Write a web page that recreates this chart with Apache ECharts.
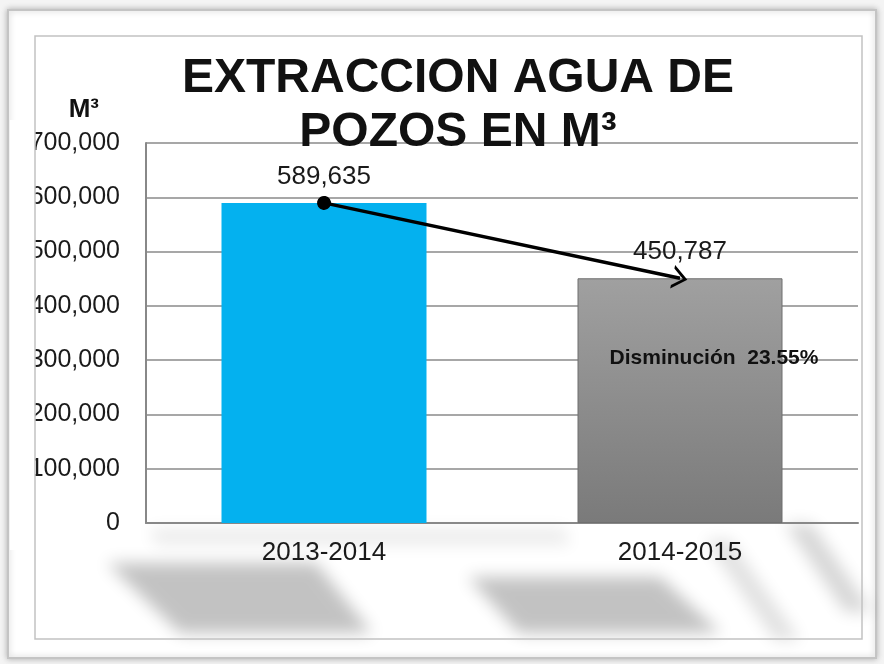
<!DOCTYPE html>
<html>
<head>
<meta charset="utf-8">
<script src="https://cdn.jsdelivr.net/npm/echarts@6/dist/echarts.min.js"></script>
<style>
  html, body { margin: 0; padding: 0; background: #fff; }
  #chart { width: 884px; height: 664px; }
</style>
</head>
<body>
<div id="chart"></div>
<script>
// --- data ---
const periods = ['2013-2014', '2014-2015']
const volumes = [589635, 450787]
const yTicks = [0, 100000, 200000, 300000, 400000, 500000, 600000, 700000]
const noteText = 'Disminución  23.55%'

const chart = echarts.init(document.getElementById('chart'))

const fmt = v => v.toLocaleString('en-US')
const font = 'Arial, "Liberation Sans", sans-serif'

// soft grey shapes of the slide background: only the blurred shadow is shown,
// the shape itself sits off screen
const shade = (points, alpha) => ({
  type: 'polygon',
  z: 0,
  silent: true,
  shape: { points: points.map(p => [p[0] - 2000, p[1]]) },
  style: {
    fill: '#000',
    shadowBlur: 16,
    shadowOffsetX: 2000,
    shadowColor: 'rgba(0,0,0,' + alpha + ')'
  }
})

const option = {
  animation: false,
  backgroundColor: '#f4f4f4',
  title: {
    text: 'EXTRACCION AGUA DE\nPOZOS EN M³',
    left: 453,
    top: 47,
    textAlign: 'center',
    textStyle: { fontFamily: font, fontSize: 48, fontWeight: 'bold', color: '#111', lineHeight: 54 }
  },
  grid: { left: 146, right: 26, top: 143, bottom: 141 },
  xAxis: {
    type: 'category',
    data: periods,
    axisLine: { lineStyle: { color: '#888', width: 2 } },
    axisTick: { show: false },
    axisLabel: { fontFamily: font, fontSize: 26, color: '#1a1a1a', margin: 17 }
  },
  yAxis: {
    type: 'value',
    min: yTicks[0],
    max: yTicks[yTicks.length - 1],
    interval: yTicks[1] - yTicks[0],
    name: 'M³',
    nameLocation: 'end',
    nameGap: 20,
    nameTextStyle: { fontFamily: font, fontSize: 26, fontWeight: 'bold', color: '#111', align: 'right', padding: [0, 47, 0, 0] },
    axisLine: { show: true, lineStyle: { color: '#888', width: 2 } },
    axisTick: { show: false },
    axisLabel: { fontFamily: font, fontSize: 25, color: '#1a1a1a', margin: 26, formatter: v => fmt(v) },
    splitLine: { lineStyle: { color: '#8a8a8a', width: 1.5 } }
  },
  series: [{
    type: 'bar',
    barWidth: 205,
    data: volumes.map((v, i) => ({
      value: v,
      itemStyle: i === 0
        ? { color: '#04b1ef' }
        : {
            color: new echarts.graphic.LinearGradient(0, 0, 0, 1, [
              { offset: 0, color: '#a0a0a0' },
              { offset: 1, color: '#7a7a7a' }
            ]),
            borderColor: '#6f6f6f',
            borderWidth: 1
          }
    })),
    label: {
      show: true,
      position: 'top',
      distance: 13,
      fontFamily: font,
      fontSize: 26,
      color: '#1a1a1a',
      formatter: p => fmt(p.value)
    },
    markLine: {
      silent: true,
      label: { show: false },
      lineStyle: { color: '#000', width: 3.5, type: 'solid' },
      data: [[
        { coord: [periods[0], volumes[0]], symbol: 'circle', symbolSize: 14 },
        { coord: [periods[1], volumes[1]], symbol: 'path://M0,10 L5,0 L10,10 L8.5,10 L5,3 L1.5,10 Z', symbolSize: [24, 15] }
      ]]
    }
  }],
  graphic: [
    // slide frame
    { type: 'rect', z: -1, silent: true, shape: { x: 8, y: 10, width: 868, height: 648 },
      style: { fill: '#fff', stroke: '#c4c4c4', lineWidth: 2, shadowBlur: 6, shadowColor: 'rgba(0,0,0,0.25)' } },
    shade([[150, 528], [565, 528], [570, 545], [155, 545]], 0.08),
    shade([[107, 563], [316, 563], [372, 633], [180, 633]], 0.24),
    shade([[468, 577], [660, 577], [721, 633], [519, 633]], 0.24),
    shade([[785, 524], [812, 524], [872, 612], [845, 612]], 0.16),
    shade([[705, 540], [730, 540], [800, 640], [775, 640]], 0.12),
    // clip of the tick labels at the inner frame
    { type: 'rect', z: 100, silent: true, shape: { x: 10, y: 120, width: 25, height: 430 }, style: { fill: '#fff' } },
    // inner frame
    { type: 'rect', z: 101, silent: true, shape: { x: 35, y: 36, width: 827, height: 603 },
      style: { fill: 'none', stroke: '#c2c2c2', lineWidth: 1.5 } },
    {
      type: 'text',
      z: 100,
      x: 714,
      y: 358,
      style: {
        text: noteText,
        fontFamily: font,
        fontSize: 21,
        fontWeight: 'bold',
        fill: '#111',
        textAlign: 'center',
        textVerticalAlign: 'middle'
      }
    }
  ]
}

chart.setOption(option)
</script>
</body>
</html>
